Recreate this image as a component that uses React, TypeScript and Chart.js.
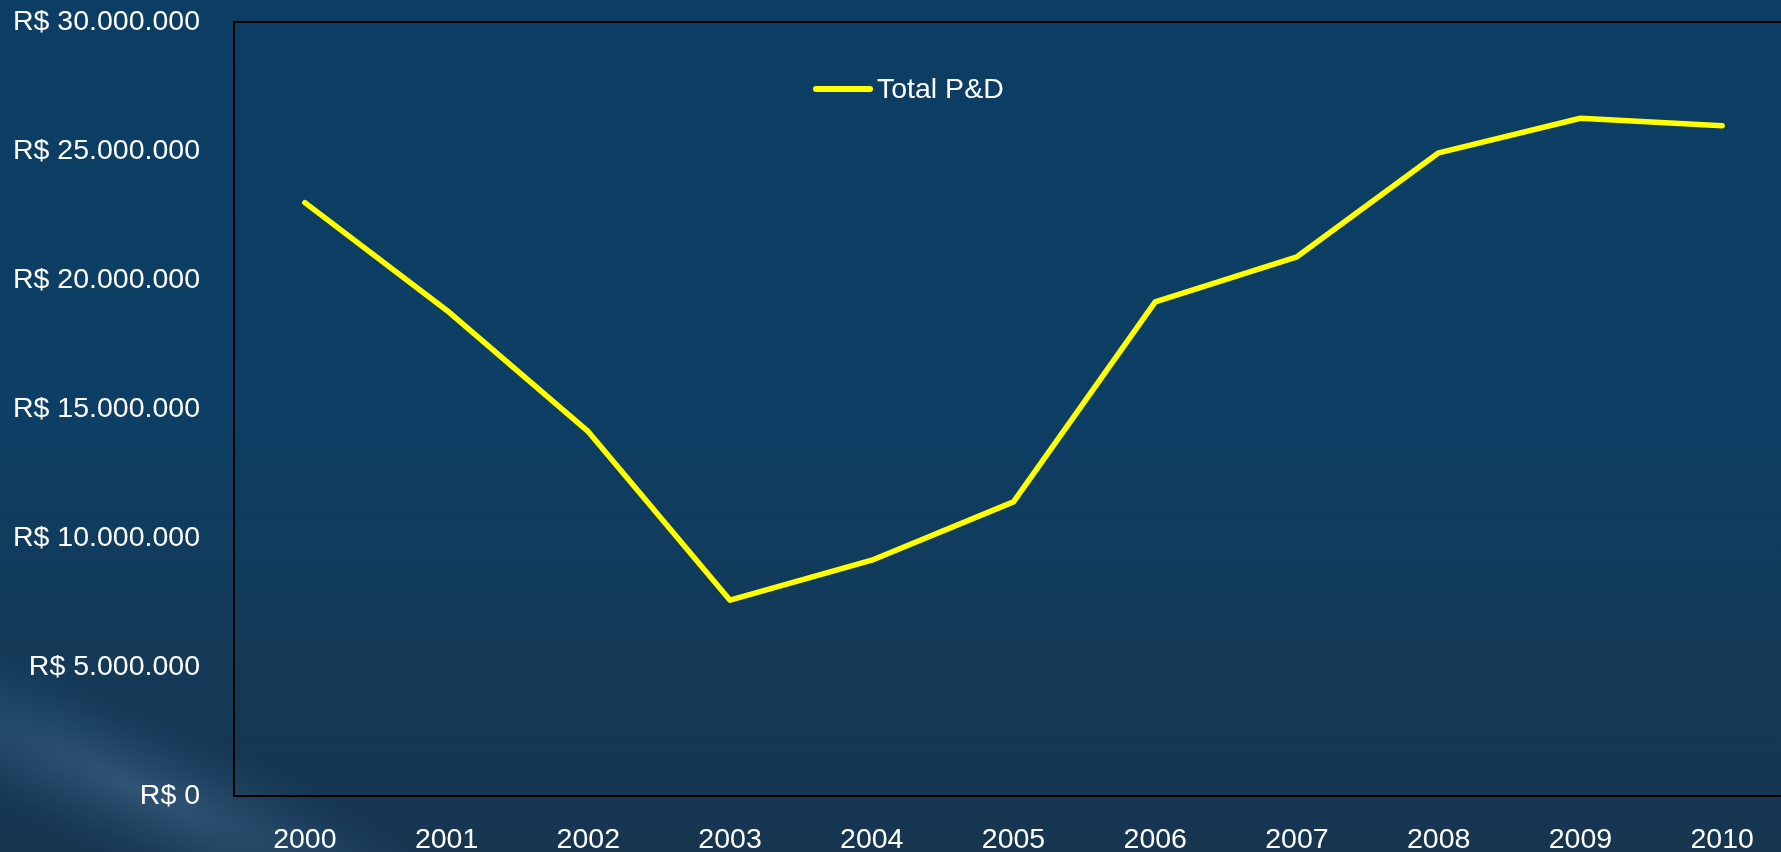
import React, { useEffect, useRef } from "react";
import { Chart, registerables } from "chart.js";

Chart.register(...registerables);

const years = ["2000", "2001", "2002", "2003", "2004", "2005", "2006", "2007", "2008", "2009", "2010"];
const totalPD = [23000000, 18830000, 14120000, 7590000, 9140000, 11400000, 19150000, 20900000, 24930000, 26270000, 25980000];
const seriesLabel = "Total P&D";
const yMin = 0;
const yMax = 30000000;
const yStep = 5000000;

const FONT = "'Liberation Sans', Arial, sans-serif";

function formatBRL(v: number): string {
  const s = String(Math.round(v)).replace(/\B(?=(\d{3})+(?!\d))/g, ".");
  return "R$ " + s;
}

const backgroundPlugin = {
  id: "bgPhoto",
  beforeDraw(chart: any) {
    const { ctx, width, height } = chart;
    ctx.save();
    const g = ctx.createLinearGradient(0, 0, 0, height);
    g.addColorStop(0, "#0c3d63");
    g.addColorStop(0.5, "#0d3e63");
    g.addColorStop(0.75, "#133a58");
    g.addColorStop(1, "#17354f");
    ctx.fillStyle = g;
    ctx.fillRect(0, 0, width, height);
    // light streak bottom-left
    ctx.translate(140, 790);
    ctx.rotate(0.42);
    const r = ctx.createRadialGradient(0, 0, 0, 0, 0, 260);
    r.addColorStop(0, "rgba(90,130,170,0.4)");
    r.addColorStop(0.6, "rgba(60,105,150,0.18)");
    r.addColorStop(1, "rgba(40,90,140,0)");
    ctx.scale(1.8, 0.3);
    ctx.fillStyle = r;
    ctx.beginPath();
    ctx.arc(0, 0, 260, 0, Math.PI * 2);
    ctx.fill();
    ctx.restore();
  },
};

const frameLegendPlugin = {
  id: "frameLegend",
  beforeDatasetsDraw(chart: any) {
    const { ctx, chartArea } = chart;
    ctx.save();
    ctx.strokeStyle = "#000000";
    ctx.lineWidth = 2;
    ctx.strokeRect(chartArea.left, chartArea.top, chartArea.right - chartArea.left, chartArea.bottom - chartArea.top);
    ctx.restore();
  },
  afterDatasetsDraw(chart: any) {
    const { ctx } = chart;
    const ds = chart.data.datasets[0];
    ctx.save();
    ctx.strokeStyle = ds.borderColor;
    ctx.lineWidth = 6;
    ctx.lineCap = "round";
    ctx.beginPath();
    ctx.moveTo(816, 89);
    ctx.lineTo(870, 89);
    ctx.stroke();
    ctx.fillStyle = "#ffffff";
    ctx.font = `28.5px ${FONT}`;
    ctx.textAlign = "left";
    ctx.textBaseline = "middle";
    ctx.fillText(ds.label, 877, 90);
    ctx.restore();
  },
};

export default function App() {
  const canvasRef = useRef<HTMLCanvasElement | null>(null);

  useEffect(() => {
    if (!canvasRef.current) return;
    const chart = new Chart(canvasRef.current, {
      type: "line",
      data: {
        labels: years,
        datasets: [
          {
            label: seriesLabel,
            data: totalPD,
            borderColor: "#ffff00",
            backgroundColor: "#ffff00",
            borderWidth: 5.5,
            pointRadius: 0,
            pointHoverRadius: 0,
            tension: 0,
            borderCapStyle: "round",
            borderJoinStyle: "round",
          },
        ],
      },
      options: {
        animation: false,
        responsive: false,
        maintainAspectRatio: false,
        layout: { padding: { top: 22, right: 7, left: 0, bottom: 0 } },
        plugins: {
          legend: { display: false },
          tooltip: { enabled: false },
        },
        scales: {
          x: {
            type: "category",
            offset: true,
            grid: { display: false, drawTicks: false },
            border: { display: false },
            ticks: {
              color: "#ffffff",
              font: { family: FONT, size: 28.5 },
              padding: 27,
              maxRotation: 0,
              autoSkip: false,
            },
            afterFit(scale: any) {
              scale.height = 56;
              scale.paddingLeft = 0;
              scale.paddingRight = 0;
            },
          },
          y: {
            min: yMin,
            max: yMax,
            grid: { display: false, drawTicks: false },
            border: { display: false },
            ticks: {
              stepSize: yStep,
              color: "#ffffff",
              font: { family: FONT, size: 28.5 },
              padding: 34,
              callback: (v: any) => formatBRL(Number(v)),
            },
            afterFit(scale: any) {
              scale.width = 234;
              scale.paddingTop = 0;
              scale.paddingBottom = 0;
            },
          },
        },
      },
      plugins: [backgroundPlugin, frameLegendPlugin],
    });
    return () => chart.destroy();
  }, []);

  return (
    <div
      style={{
        position: "fixed",
        left: 0,
        top: 0,
        width: 1781,
        height: 852,
        overflow: "hidden",
        background: "#0c3d63",
      }}
    >
      <canvas ref={canvasRef} width={1800} height={852} style={{ display: "block", width: 1800, height: 852 }} />
    </div>
  );
}
